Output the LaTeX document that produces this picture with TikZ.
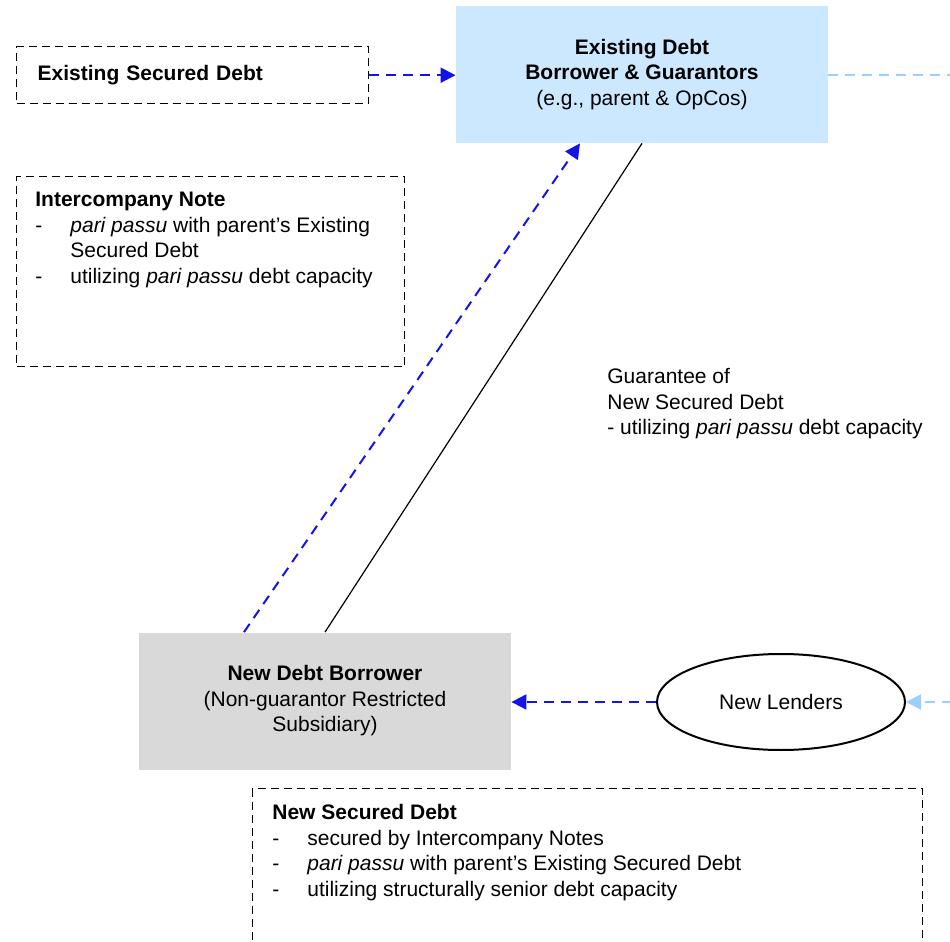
\documentclass[tikz,border=0pt]{standalone}
\usepackage{fontspec}
\setmainfont{Liberation Sans}
\usetikzlibrary{arrows.meta,positioning,shapes.geometric}

\definecolor{debtblue}{RGB}{204,232,255}
\definecolor{debtgray}{RGB}{217,217,217}
\definecolor{arrowblue}{RGB}{20,20,230}
\definecolor{faintblue}{RGB}{153,208,255}

\newcommand{\bul}{\makebox[17.5pt][l]{-}}
\newcommand{\ind}{\makebox[17.5pt][l]{}}

\begin{document}
\begin{tikzpicture}[x=0.5pt,y=-0.5pt,
    every node/.style={font=\fontsize{10.5}{12.75}\selectfont},
    company/.style={rectangle, minimum width=186pt, minimum height=68.5pt, align=center, inner sep=0pt},
    notebox/.style={draw, line width=0.7pt, dash pattern=on 4pt off 2.5pt, inner sep=0pt},
    notetext/.style={align=left, inner sep=0pt},
    flow/.style={draw=arrowblue, line width=1pt, dash pattern=on 5pt off 3.5pt, -{Triangle[length=7.5pt,width=7.5pt]}},
    faint/.style={draw=faintblue, line width=1pt, dash pattern=on 5pt off 3.5pt}]

      \useasboundingbox (0,0) rectangle (950,942);
      \clip (0,0) rectangle (950,942);

      % nodes

      % parent group
      \node[company, fill=debtblue] (existing_group) at (642,74.5)
        {\textbf{Existing Debt}\\\textbf{Borrower \& Guarantors}\\(e.g., parent \& OpCos)};
      \node[notebox, anchor=north west, text width=155pt, inner xsep=10.5pt, minimum height=28.5pt, align=left] (existing_secured) at (16,46)
        {\raisebox{2.5pt}{\textbf{Existing Secured Debt}}};

      % intercompany note
      \node[notebox, anchor=north west, minimum width=194pt, minimum height=95pt] (interco_box) at (16,176) {};
      \node[notetext, below right=8pt and 9.5pt of interco_box.north west] (interco_text)
        {\textbf{Intercompany Note}\\
         \bul\textit{pari passu} with parent’s Existing\\
         \ind Secured Debt\\
         \bul utilizing \textit{pari passu} debt capacity};

      % guarantee label
      \node[notetext, anchor=north west] (guarantee) at (607,368)
        {Guarantee of\\New Secured Debt\\- utilizing \textit{pari passu} debt capacity};

      % subsidiary and lenders
      \node[company, fill=debtgray] (new_borrower) at (325,701)
        {\textbf{New Debt Borrower}\\(Non-guarantor Restricted\\Subsidiary)};
      \node[ellipse, draw, line width=1pt, minimum width=124pt, minimum height=48pt, inner sep=0pt] (new_lenders) at (781,702) {New Lenders};

      % new secured debt
      \node[notebox, anchor=north west, minimum width=335pt, minimum height=110pt] (new_secured_box) at (252,788) {};
      \node[notetext, below right=8pt and 10pt of new_secured_box.north west] (new_secured_text)
        {\textbf{New Secured Debt}\\
         \bul secured by Intercompany Notes\\
         \bul\textit{pari passu} with parent’s Existing Secured Debt\\
         \bul utilizing structurally senior debt capacity};

      % loose ends at the right edge
      \coordinate (edge_top) at (952,75);
      \coordinate (edge_bottom) at (952,702);

      % edges
      \draw[flow] (existing_secured.east) -- (existing_secured.east -| existing_group.west);
      \draw[faint] (existing_group.east) -- (existing_group.east -| edge_top);
      \draw[flow] ([xshift=-40.5pt]new_borrower.north) -- ([xshift=-31pt]existing_group.south);
      \draw[line width=0.6pt] (new_borrower.north) -- (existing_group.south);
      \draw[flow] (new_lenders.west) -- (new_lenders.west -| new_borrower.east);
      \draw[faint, -{Triangle[length=7.5pt,width=7.5pt]}] (edge_bottom) -- (new_lenders.east);

\end{tikzpicture}
\end{document}
